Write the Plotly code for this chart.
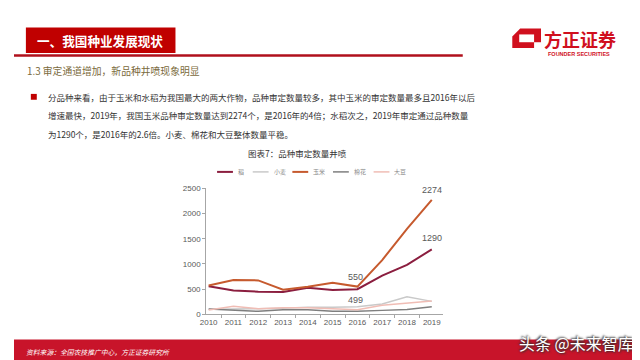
import plotly.graph_objects as go

W, H = 640, 360

# ---- data ----
years = [2010, 2011, 2012, 2013, 2014, 2015, 2016, 2017, 2018, 2019]
rice = [558, 474, 449, 442, 526, 481, 499, 769, 981, 1290]
wheat = [100, 100, 110, 120, 140, 140, 150, 205, 346, 256]
corn = [570, 679, 673, 487, 545, 628, 550, 1077, 1699, 2274]
cotton = [103, 83, 58, 90, 90, 58, 58, 77, 96, 147]
soybean = [83, 160, 109, 128, 128, 115, 90, 180, 218, 263]

series_names = ["稻", "小麦", "玉米", "棉花", "大豆"]
series_values = [rice, wheat, corn, cotton, soybean]
series_colors = ["#8B1E3F", "#C9C9C9", "#C65A2E", "#7F7F7F", "#F0BDB5"]
series_widths = [2, 1.5, 2, 1.5, 1.5]
y_ticks = [0, 500, 1000, 1500, 2000, 2500]

def px(x):
    return x / W

def py(y):
    return 1 - y / H

fig = go.Figure()
for name, vals, col, w in zip(series_names, series_values, series_colors, series_widths):
    fig.add_trace(go.Scatter(x=years, y=vals, name=name, mode="lines",
                             line=dict(color=col, width=w), showlegend=False))

shapes = []
ann = []

# header
shapes.append(dict(type="rect", xref="paper", yref="paper", x0=px(12), x1=px(163), y0=py(42), y1=py(16),
                   fillcolor="#C00000", line=dict(width=0), layer="below"))
shapes.append(dict(type="line", xref="paper", yref="paper", x0=0, x1=px(453), y0=py(44.5), y1=py(44.5),
                   line=dict(color="#B0101C", width=2.5)))
ann.append(dict(text="<b>一、我国种业发展现状</b>", x=px(21), y=py(29.5), xanchor="left", yanchor="middle",
                font=dict(size=12.6, color="white", family="Noto Sans CJK SC")))

# logo
shapes.append(dict(type="path", xref="paper", yref="paper",
                   path=f"M {px(503)} {py(25)} L {px(511)} {py(17)} L {px(532)} {py(17)} L {px(532)} {py(37)} "
                        f"L {px(503)} {py(37)} Z",
                   fillcolor="#D0101E", line=dict(width=0)))
shapes.append(dict(type="rect", xref="paper", yref="paper", x0=px(510), x1=px(525), y0=py(31), y1=py(23),
                   fillcolor="white", line=dict(width=0)))
shapes.append(dict(type="rect", xref="paper", yref="paper", x0=px(525), x1=px(532), y0=py(37), y1=py(31),
                   fillcolor="white", line=dict(width=0)))
ann.append(dict(text="<b>方正证券</b>", x=px(533), y=py(27.5), xanchor="left", yanchor="middle",
                font=dict(size=18, color="#D0101E", family="Noto Sans CJK SC")))
ann.append(dict(text="<b>FOUNDER SECURITIES</b>", x=px(570), y=py(43), xanchor="center", yanchor="middle",
                font=dict(size=5.5, color="#D0101E", family="Liberation Sans")))

# subtitle
ann.append(dict(text="1.3 审定通道增加，新品种井喷现象明显", x=px(11), y=py(61), xanchor="left", yanchor="middle",
                font=dict(size=9.8, color="#7A6A3C", family="Noto Sans CJK SC")))

# bullet and body text
shapes.append(dict(type="rect", xref="paper", yref="paper", x0=px(17), x1=px(23), y0=py(90), y1=py(84),
                   fillcolor="#C00000", line=dict(width=0)))
body_lines = [
    "分品种来看，由于玉米和水稻为我国最大的两大作物，品种审定数量较多，其中玉米的审定数量最多且2016年以后",
    "增速最快，2019年，我国玉米品种审定数量达到2274个，是2016年的4倍；水稻次之，2019年审定通过品种数量",
    "为1290个，是2016年的2.6倍。小麦、棉花和大豆整体数量平稳。",
]
for i, line in enumerate(body_lines):
    ann.append(dict(text=line, x=px(32), y=py(87 + 19 * i), xanchor="left", yanchor="middle",
                    font=dict(size=8.5, color="#333333", family="Noto Sans CJK SC")))

# chart title
ann.append(dict(text="图表7：品种审定数量井喷", x=px(286), y=py(145), xanchor="center", yanchor="middle",
                font=dict(size=8.5, color="#333333", family="Noto Sans CJK SC")))

# legend (manual)
leg_x = [205, 241, 281, 322, 363]
for lx, name, col, w in zip(leg_x, series_names, series_colors, series_widths):
    shapes.append(dict(type="line", xref="paper", yref="paper", x0=px(lx), x1=px(lx + 16), y0=py(164), y1=py(164),
                       line=dict(color=col, width=w)))
    ann.append(dict(text=name, x=px(lx + 19), y=py(164), xanchor="left", yanchor="middle",
                    font=dict(size=6, color="#888888", family="Noto Sans CJK SC")))

# data labels
lab_font = dict(size=9, color="#595959", family="Liberation Sans")
ann.append(dict(text=str(corn[-1]), x=years[-1], y=corn[-1], xref="x", yref="y", showarrow=False,
                yshift=10, xanchor="center", yanchor="middle", font=lab_font))
ann.append(dict(text=str(rice[-1]), x=years[-1], y=rice[-1], xref="x", yref="y", showarrow=False,
                yshift=11, xanchor="center", yanchor="middle", font=lab_font))
ann.append(dict(text=str(corn[6]), x=years[6], y=corn[6], xref="x", yref="y", showarrow=False,
                yshift=10, xshift=-2, xanchor="center", yanchor="middle", font=lab_font))
ann.append(dict(text=str(rice[6]), x=years[6], y=rice[6], xref="x", yref="y", showarrow=False,
                yshift=-11, xshift=-2, xanchor="center", yanchor="middle", font=lab_font))

# footer
shapes.append(dict(type="rect", xref="paper", yref="paper", x0=0, x1=1, y0=0, y1=py(336),
                   fillcolor="#C8142A", line=dict(width=0), layer="below"))
ann.append(dict(text="<i>资料来源：全国农技推广中心，方正证券研究所</i>", x=px(10), y=py(349), xanchor="left",
                yanchor="middle", font=dict(size=6.8, color="white", family="Noto Sans CJK SC")))
ann.append(dict(text="头条 @未来智库", x=px(628), y=py(339), xanchor="right", yanchor="middle",
                font=dict(size=16, color="white", family="Noto Sans CJK SC",
                          shadow="1px 1px 2px #333, -1px -1px 2px #333")))
ann.append(dict(text="8", x=px(630), y=py(352), xanchor="center", yanchor="middle",
                font=dict(size=8, color="white", family="Liberation Sans")))

for a in ann:
    a.setdefault("xref", "paper")
    a.setdefault("yref", "paper")
    a.setdefault("showarrow", False)

fig.update_layout(
    width=W, height=H, margin=dict(l=0, r=0, t=0, b=0),
    paper_bgcolor="white", plot_bgcolor="white",
    shapes=shapes, annotations=ann, showlegend=False,
    xaxis=dict(domain=[px(194), px(433)], range=[2009.9, 2019.45], tickvals=years,
               ticktext=[str(y) for y in years], showgrid=False, zeroline=False,
               showline=True, linecolor="#A6A6A6", linewidth=1, ticks="",
               minor=dict(tick0=2010.5, dtick=1, ticks="outside", ticklen=3, tickcolor="#A6A6A6"),
               tickfont=dict(size=8, color="#595959", family="Liberation Sans")),
    yaxis=dict(domain=[py(310), py(181)], range=[0, 2500], tickvals=y_ticks, showgrid=False,
               zeroline=False, showline=True, linecolor="#A6A6A6", linewidth=1,
               ticks="outside", ticklen=3, tickcolor="#A6A6A6",
               tickfont=dict(size=8, color="#595959", family="Liberation Sans")),
)

fig.write_html("out.html")
